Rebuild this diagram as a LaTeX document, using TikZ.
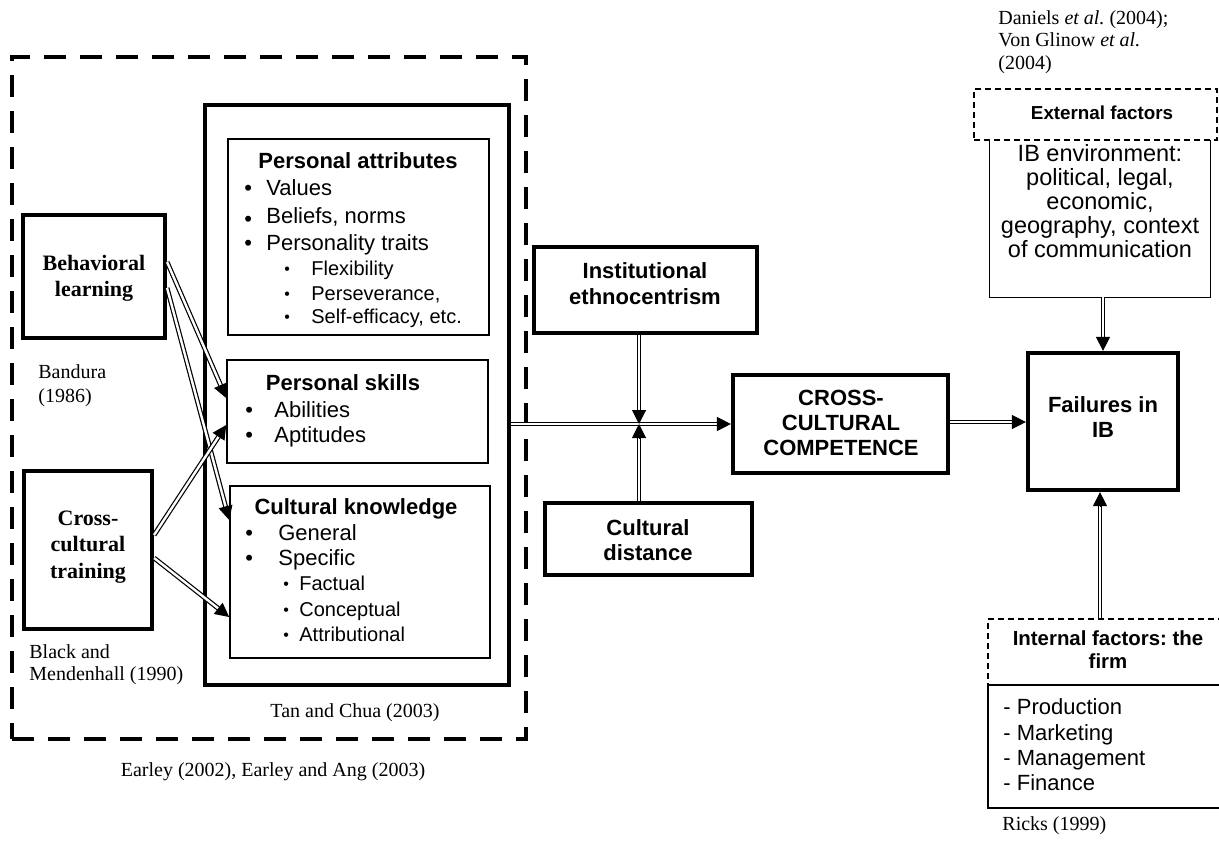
\documentclass[tikz,border=0pt]{standalone}
\usepackage{fontspec}
\usepackage{graphicx}
\setmainfont{Liberation Serif}
\setsansfont{Liberation Sans}
\usetikzlibrary{arrows.meta,fit,calc}
\frenchspacing

\newcommand\bul[1]{\makebox[#1][l]{\textbullet}}
\newcommand\lbul[1]{\makebox[#1][l]{\raisebox{-1.5pt}{\textbullet}}}
\newcommand\sbul[1]{\makebox[#1][l]{\raisebox{0.4pt}{\scalebox{0.8}{\textbullet}}}}
\newcommand\dar[2]{%
  \draw[dbl, shorten >=6pt] #1 -- #2;
  \draw[tipst] ($#2!7pt!#1$) -- #2;}

\tikzset{
  thickbox/.style={draw, line width=2.1pt, inner sep=0pt},
  thinbox/.style={draw, line width=0.8pt, inner sep=0pt},
  dashbox/.style={draw, line width=0.7pt, dash pattern=on 3pt off 2pt, inner sep=0pt},
  bigdash/.style={draw, line width=2.4pt, dash pattern=on 11pt off 7pt, inner sep=0pt},
  ttl/.style={inner sep=0pt, align=center, font=\sffamily\bfseries\fontsize{11}{13}\selectfont},
  serifb/.style={inner sep=0pt, align=center, font=\rmfamily\bfseries\fontsize{11}{13.2}\selectfont},
  ref/.style={inner sep=0pt, align=left, font=\rmfamily\fontsize{10}{11.5}\selectfont},
  item/.style={inner sep=0pt, anchor=base west, font=\sffamily\fontsize{11}{13}\selectfont},
  subitem/.style={inner sep=0pt, anchor=base west, font=\sffamily\fontsize{10}{12}\selectfont},
  dbl/.style={double, double distance=1.2pt, line width=0.6pt},
  tipst/.style={-{Triangle[length=7pt,width=7pt]}, line width=0.5pt},
}

\begin{document}
\begin{tikzpicture}[x=0.5pt, y=-0.5pt]
\fill[white] (0,0) rectangle (1219,841);
\useasboundingbox (0,0) rectangle (1219,841);

% ---------- boxes ----------
\node[bigdash, fit={(12,57) (526,739)}] (outer) {};
\node[thickbox, fit={(205,105) (509,685)}] (inner) {};
\node[thinbox, fit={(228,139) (489,335)}] (pa) {};
\node[thinbox, fit={(227,360) (488,463)}] (ps) {};
\node[thinbox, fit={(230,486) (490,658)}] (ck) {};
\node[thickbox, fit={(23,215) (165,338)}] (bl) {};
\node[thickbox, fit={(24,471) (152,629)}] (cct) {};
\node[thickbox, fit={(534,247) (757,333)}] (ethno) {};
\node[thickbox, fit={(545,503) (752,575)}] (cd) {};
\node[thickbox, fit={(733,375) (948,473)}] (ccc) {};
\node[thickbox, fit={(1028,353) (1178,490)}] (fail) {};
\node[dashbox, fit={(974,89) (1217,140)}] (ext) {};
\node[inner sep=0pt, fit={(990,140) (1210,297)}] (ibenv) {};
\draw[line width=0.8pt] (ibenv.north west) -- (ibenv.south west) -- (ibenv.south east) -- (ibenv.north east);
\node[dashbox, fit={(988,619) (1228,685)}] (intf) {};
\node[thinbox, fit={(988,685) (1228,808)}] (prod) {};

% ---------- texts: left ----------
\node[serifb] (blt) at (94,278) {Behavioral\\learning};
\node[serifb, font=\rmfamily\bfseries\fontsize{11}{13.3}\selectfont] (cctt) at (88,547) {Cross-\\cultural\\training};
\node[ref, anchor=west, font=\rmfamily\fontsize{10}{12}\selectfont] (band) at (38,386) {Bandura\\(1986)};
\node[ref, anchor=west, font=\rmfamily\fontsize{10}{11}\selectfont] (bm) at (29,665) {Black and\\Mendenhall (1990)};
\node[ref] (tc) at (355,713) {Tan and Chua (2003)};
\node[ref] (ea) at (273,772) {Earley (2002), Earley and Ang (2003)};

% Personal attributes
\node[ttl, anchor=base] (pat) at (358,168) {Personal attributes};
\node[item] (pa1) at (244,195) {\bul{11pt}Values};
\node[item] (pa2) at (244,223) {\lbul{11pt}Beliefs, norms};
\node[item] (pa3) at (244,250) {\bul{11pt}Personality traits};
\node[subitem] (pa4) at (284,275.5) {\sbul{13.5pt}Flexibility};
\node[subitem] (pa5) at (284,300.5) {\sbul{13.5pt}Perseverance,};
\node[subitem] (pa6) at (284,323.5) {\sbul{13.5pt}Self-efficacy, etc.};

% Personal skills
\node[ttl, anchor=base] (pst) at (343,390) {Personal skills};
\node[item] (ps1) at (245,417) {\bul{14.5pt}Abilities};
\node[item] (ps2) at (245,442) {\bul{14.5pt}Aptitudes};

% Cultural knowledge
\node[ttl, anchor=base] (ckt) at (356,514) {Cultural knowledge};
\node[item] (ck1) at (245,540) {\bul{16.5pt}General};
\node[item] (ck2) at (245,565) {\bul{16.5pt}Specific};
\node[subitem] (ck3) at (283,590.5) {\sbul{8pt}Factual};
\node[subitem] (ck4) at (283,616.5) {\sbul{8pt}Conceptual};
\node[subitem] (ck5) at (283,641.5) {\sbul{8pt}Attributional};

% ---------- texts: middle ----------
\node[ttl] (ethnot) at (645,284) {Institutional\\ethnocentrism};
\node[ttl, font=\sffamily\bfseries\fontsize{11}{12.5}\selectfont] (cdt) at (648,540) {Cultural\\distance};
\node[ttl, font=\sffamily\bfseries\fontsize{11}{12.5}\selectfont] (ccct) at (841,423) {CROSS-\\CULTURAL\\COMPETENCE};

% ---------- texts: right ----------
\node[ref, anchor=west, font=\rmfamily\fontsize{10}{11.4}\selectfont] (dan) at (998,42) {Daniels \textit{et al.}\ (2004);\\Von Glinow \textit{et al.}\\(2004)};
\node[ttl, font=\sffamily\bfseries\fontsize{9.4}{11}\selectfont] (extt) at (1102,113) {External factors};
\node[inner sep=0pt, align=center, font=\sffamily\fontsize{11.75}{12}\selectfont] (ibt) at (1100,201) {IB environment:\\political, legal,\\economic,\\geography, context\\of communication};
\node[ttl, font=\sffamily\bfseries\fontsize{11}{12.5}\selectfont] (failt) at (1103,417) {Failures in\\IB};
\node[ttl, font=\sffamily\bfseries\fontsize{10.2}{11.5}\selectfont] (intft) at (1108,650) {Internal factors: the\\firm};
\node[inner sep=0pt, align=left, anchor=west, font=\sffamily\fontsize{11}{12.65}\selectfont] (prodt) at (1003,745) {- Production\\- Marketing\\- Management\\- Finance};
\node[ref, anchor=west] (ricks) at (1002,826) {Ricks (1999)};

% ---------- connectors ----------
\coordinate (a1s) at (bl.east |- 0,262);
\coordinate (a1e) at (ps.west |- 0,398);
\coordinate (a2s) at (bl.east |- 0,288);
\coordinate (a2e) at (ck.west |- 0,520);
\coordinate (a3s) at (cct.east |- 0,535);
\coordinate (a3e) at (ps.west |- 0,425);
\coordinate (a4s) at (cct.east |- 0,558);
\coordinate (a4e) at (ck.west |- 0,617);
\dar{(a1s)}{(a1e)}
\dar{(a2s)}{(a2e)}
\dar{(a3s)}{(a3e)}
\dar{(a4s)}{(a4e)}

\coordinate (J) at (639,424);
\coordinate (hs) at (inner.east |- J);
\coordinate (he) at (ccc.west |- J);
\dar{(hs)}{(he)}
\coordinate (vds) at (ethno.south -| J);
\coordinate (vus) at (cd.north -| J);
\dar{(vds)}{(J)}
\dar{(vus)}{(J)}

\coordinate (cs) at (ccc.east |- 0,422);
\coordinate (ce) at (fail.west |- 0,422);
\dar{(cs)}{(ce)}
\coordinate (is) at (ibenv.south -| 1103,0);
\coordinate (ie) at (fail.north -| 1103,0);
\dar{(is)}{(ie)}
\coordinate (ns) at (intf.north -| 1100,0);
\coordinate (ne) at (fail.south -| 1100,0);
\dar{(ns)}{(ne)}
\end{tikzpicture}
\end{document}
